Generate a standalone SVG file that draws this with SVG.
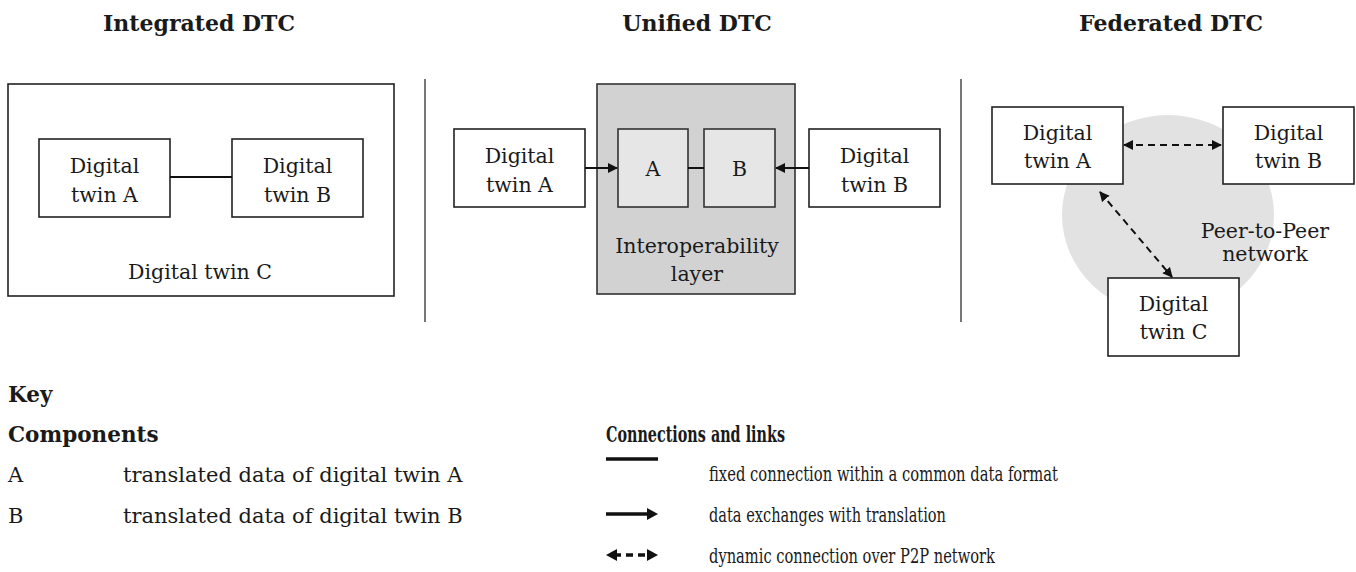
<svg xmlns="http://www.w3.org/2000/svg" width="1356" height="572" viewBox="0 0 1356 572">
  <style>
    text { font-family: "DejaVu Serif", "Liberation Serif", serif; fill: #1a1a1a; }
    .title { font-size: 22px; font-weight: bold; text-anchor: middle; }
    .lbl { font-size: 20.5px; text-anchor: middle; }
    .key { font-size: 21px; }
    .keyb { font-size: 21.5px; font-weight: bold; }
    .box { fill: #ffffff; stroke: #222; stroke-width: 1.6; }
    .sub { fill: #e6e6e6; stroke: #333; stroke-width: 1.6; }
    .sep { stroke: #777; stroke-width: 2; }
    .link { stroke: #111; stroke-width: 2; fill: none; }
    .dash { stroke: #111; stroke-width: 2; fill: none; stroke-dasharray: 7 5; }
  </style>
  <defs>
    <marker id="head" viewBox="0 0 10 10" refX="9" refY="5" markerWidth="5" markerHeight="5" orient="auto-start-reverse" markerUnits="strokeWidth">
      <path d="M0,0 L10,5 L0,10 z" fill="#111"/>
    </marker>
  </defs>

  <!-- column titles -->
  <text class="title" x="199" y="31">Integrated DTC</text>
  <text class="title" x="697" y="31">Unified DTC</text>
  <text class="title" x="1171" y="31">Federated DTC</text>

  <!-- column separators -->
  <line class="sep" x1="425" y1="79" x2="425" y2="322"/>
  <line class="sep" x1="961" y1="79" x2="961" y2="322"/>

  <!-- Integrated DTC -->
  <g id="twin-c-integrated">
    <rect class="box" x="8" y="84" width="386" height="212"/>
    <text class="lbl" x="200" y="279">Digital twin C</text>
  </g>
  <g id="twin-a-integrated">
    <rect class="box" x="39" y="139" width="131" height="78"/>
    <text class="lbl" x="104.5" y="173">Digital</text>
    <text class="lbl" x="104.5" y="202">twin A</text>
  </g>
  <g id="twin-b-integrated">
    <rect class="box" x="232" y="139" width="131" height="78"/>
    <text class="lbl" x="297.5" y="173">Digital</text>
    <text class="lbl" x="297.5" y="202">twin B</text>
  </g>

  <!-- Unified DTC -->
  <g id="interop-layer">
    <rect x="597" y="84" width="198" height="210" fill="#d2d2d2" stroke="#333" stroke-width="1.6"/>
    <text class="lbl" x="697" y="253">Interoperability</text>
    <text class="lbl" x="697" y="281">layer</text>
  </g>
  <g id="translated-a">
    <rect class="sub" x="618" y="129" width="70" height="78"/>
    <text class="lbl" x="653" y="176">A</text>
  </g>
  <g id="translated-b">
    <rect class="sub" x="704" y="129" width="71" height="78"/>
    <text class="lbl" x="739.5" y="176">B</text>
  </g>
  <g id="twin-a-unified">
    <rect class="box" x="454" y="129" width="131" height="78"/>
    <text class="lbl" x="519.5" y="163">Digital</text>
    <text class="lbl" x="519.5" y="192">twin A</text>
  </g>
  <g id="twin-b-unified">
    <rect class="box" x="809" y="129" width="131" height="78"/>
    <text class="lbl" x="874.5" y="163">Digital</text>
    <text class="lbl" x="874.5" y="192">twin B</text>
  </g>

  <!-- Federated DTC -->
  <g id="p2p-network">
    <ellipse cx="1168" cy="215" rx="106" ry="100" fill="#e2e2e2"/>
    <text class="lbl" x="1265" y="238">Peer-to-Peer</text>
    <text class="lbl" x="1265" y="261">network</text>
  </g>
  <g id="twin-a-federated">
    <rect class="box" x="992" y="107" width="131" height="77"/>
    <text class="lbl" x="1057.5" y="140">Digital</text>
    <text class="lbl" x="1057.5" y="168">twin A</text>
  </g>
  <g id="twin-b-federated">
    <rect class="box" x="1223" y="107" width="131" height="77"/>
    <text class="lbl" x="1288.5" y="140">Digital</text>
    <text class="lbl" x="1288.5" y="168">twin B</text>
  </g>
  <g id="twin-c-federated">
    <rect class="box" x="1108" y="278" width="131" height="78"/>
    <text class="lbl" x="1173.5" y="311">Digital</text>
    <text class="lbl" x="1173.5" y="339">twin C</text>
  </g>

  <!-- connectors -->
  <g id="connectors">
    <line class="link" x1="170" y1="177" x2="232" y2="177"/>
    <line class="link" x1="585" y1="168" x2="617" y2="168" marker-end="url(#head)"/>
    <line class="link" x1="688" y1="168" x2="704" y2="168"/>
    <line class="link" x1="809" y1="168" x2="776" y2="168" marker-end="url(#head)"/>
    <line class="dash" x1="1124" y1="145" x2="1221" y2="145" marker-start="url(#head)" marker-end="url(#head)"/>
    <line class="dash" x1="1100" y1="192" x2="1172" y2="277" marker-start="url(#head)" marker-end="url(#head)"/>
  </g>

  <!-- key -->
  <g id="key">
    <text class="keyb" x="8" y="402">Key</text>
    <text class="keyb" x="8" y="442">Components</text>
    <text class="key" x="8" y="482">A</text>
    <text class="key" x="123" y="482">translated data of digital twin A</text>
    <text class="key" x="8" y="523">B</text>
    <text class="key" x="123" y="523">translated data of digital twin B</text>

    <text class="keyb" x="606" y="442" textLength="179" lengthAdjust="spacingAndGlyphs">Connections and links</text>
    <line x1="606" y1="459" x2="658" y2="459" stroke="#111" stroke-width="3.5"/>
    <text class="key" x="709" y="481" textLength="349" lengthAdjust="spacingAndGlyphs">fixed connection within a common data format</text>
    <line x1="606" y1="514" x2="650" y2="514" stroke="#111" stroke-width="3.5"/>
    <path d="M647,508 L658,514 L647,520 z" fill="#111"/>
    <text class="key" x="709" y="522" textLength="237" lengthAdjust="spacingAndGlyphs">data exchanges with translation</text>
    <line x1="614" y1="555" x2="650" y2="555" stroke="#111" stroke-width="3.5" stroke-dasharray="7 5"/>
    <path d="M606,555 L617,549 L617,561 z" fill="#111"/>
    <path d="M647,549 L658,555 L647,561 z" fill="#111"/>
    <text class="key" x="709" y="563" textLength="286" lengthAdjust="spacingAndGlyphs">dynamic connection over P2P network</text>
  </g>
</svg>
